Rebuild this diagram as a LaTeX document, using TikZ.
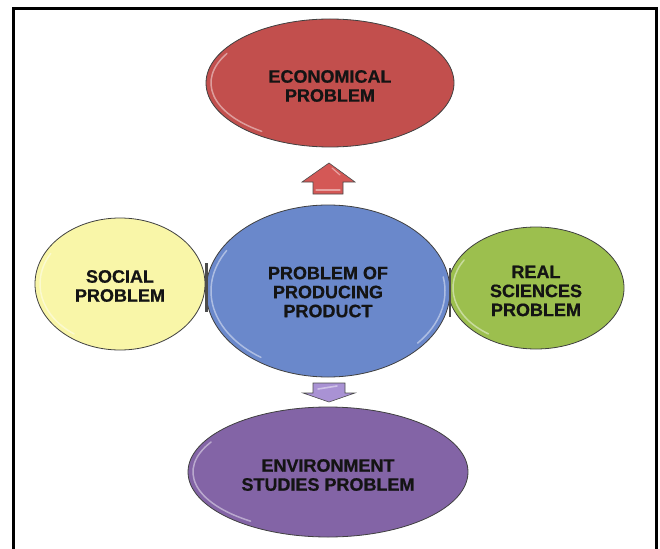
\documentclass[tikz,border=0pt]{standalone}
\usepackage{fontspec}
\setmainfont{Liberation Sans}
\newfontfamily\heavyfont[FakeBold=0.6]{Liberation Sans Bold}
\usetikzlibrary{shapes.geometric}
\definecolor{ecored}{HTML}{C24F4D}
\definecolor{upred}{HTML}{D45856}
\definecolor{socyel}{HTML}{F9F6A8}
\definecolor{prodblue}{HTML}{6A88CB}
\definecolor{sciegreen}{HTML}{9CBF4E}
\definecolor{envpurple}{HTML}{8364A6}
\definecolor{downlav}{HTML}{A992D4}
\begin{document}
\begin{tikzpicture}[x=1pt,y=-1pt,
  blob/.style={ellipse, draw=black!75, line width=0.8pt, inner sep=0pt},
  txt/.style={align=center, inner sep=0pt, font=\fontsize{18}{19}\heavyfont, text=black!92},
  gloss/.style={white, opacity=0.45, line width=1.5pt, line cap=round},
  blockarrow/.style={draw=black!70, line width=0.6pt, line join=miter},
  sidebar/.style={fill=black!70}]
\useasboundingbox (0,0) rectangle (660,548);
\draw[line width=3pt] (13,560) -- (13,9) -- (656,9) -- (656,560);

\node[blob, fill=ecored, minimum width=248pt, minimum height=128pt] (eco) at (330,83) {};
\node[blob, fill=socyel, minimum width=170pt, minimum height=132pt] (soc) at (120,284) {};
\node[blob, fill=sciegreen, minimum width=176pt, minimum height=122pt] (sci) at (536,288) {};
\node[blob, fill=envpurple, minimum width=280pt, minimum height=130pt] (env) at (328,472) {};
\node[blob, fill=prodblue, minimum width=244pt, minimum height=172pt] (prod) at (328,291) {};

\node[txt] (ecot) at ([yshift=-3pt]eco.center) {ECONOMICAL\\PROBLEM};
\node[txt] (soct) at ([yshift=-2pt]soc.center) {SOCIAL\\PROBLEM};
\node[txt] (scit) at ([yshift=-3pt]sci.center) {REAL\\SCIENCES\\PROBLEM};
\node[txt] (envt) at ([yshift=-3pt]env.center) {ENVIRONMENT\\STUDIES PROBLEM};
\node[txt] (prodt) at ([yshift=-1pt]prod.center) {PROBLEM OF\\PRODUCING\\PRODUCT};

% glossy rims
\draw[gloss] (eco.center) ++(150:119pt and 59pt) arc[start angle=150, end angle=235, x radius=119pt, y radius=59pt];
\draw[gloss] (soc.center) ++(150:80pt and 61pt) arc[start angle=150, end angle=235, x radius=80pt, y radius=61pt];
\draw[gloss] (sci.center) ++(150:83pt and 56pt) arc[start angle=150, end angle=235, x radius=83pt, y radius=56pt];
\draw[gloss] (env.center) ++(150:135pt and 60pt) arc[start angle=150, end angle=235, x radius=135pt, y radius=60pt];
\draw[gloss] (prod.center) ++(150:117pt and 81pt) arc[start angle=150, end angle=235, x radius=117pt, y radius=81pt];
\draw[gloss] (prod.center) ++(-40:117pt and 81pt) arc[start angle=-40, end angle=10, x radius=117pt, y radius=81pt];

% block arrows
\draw[blockarrow, fill=upred] (329,163) -- (355,182) -- (343,182) -- (343,194) -- (313,194) -- (313,182) -- (302,182) -- cycle;
\draw[gloss, line width=1.2pt] (332,168) -- (340,175);
\draw[gloss, line width=1.2pt] (316,190) -- (340,190);
\draw[blockarrow, fill=downlav] (313,383) -- (345,383) -- (345,393) -- (355,393) -- (329,402) -- (303,393) -- (313,393) -- cycle;
\draw[gloss, line width=1.6pt] (318,389) -- (337,386);

% side connectors
\fill[sidebar] (205,263) rectangle (207.5,312);
\fill[sidebar] (448.5,268) rectangle (451,317);
\end{tikzpicture}
\end{document}
